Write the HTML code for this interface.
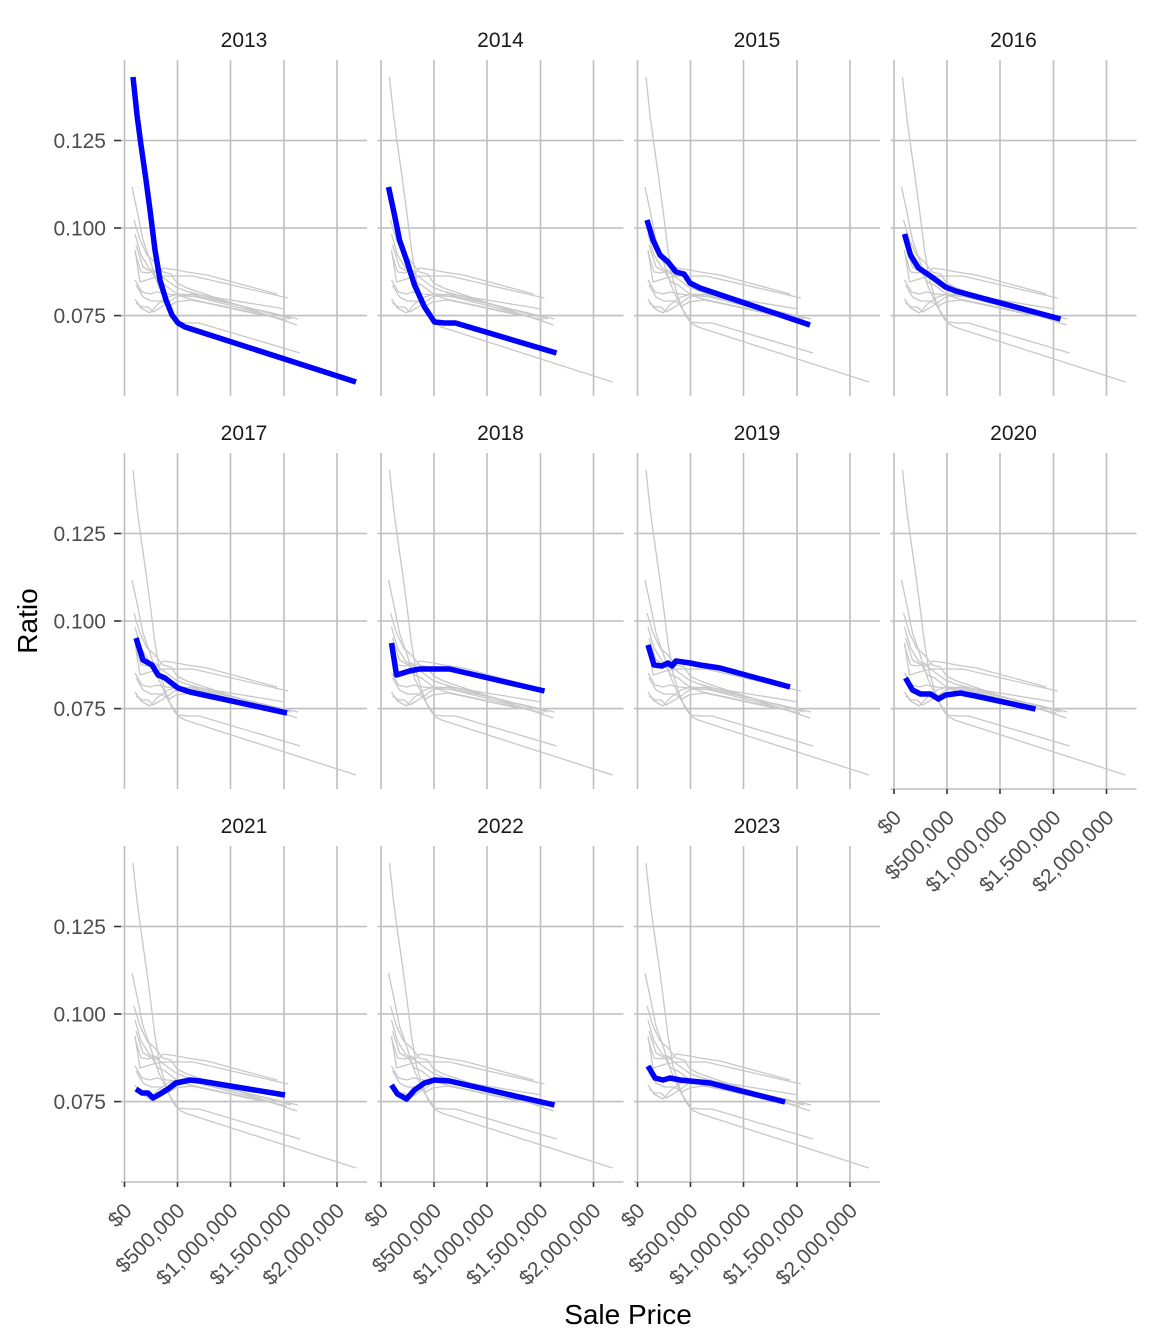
<!DOCTYPE html>
<html><head><meta charset="utf-8"><style>
html,body{margin:0;padding:0;background:#fff}
svg{display:block;font-family:"Liberation Sans",Arial,sans-serif}
</style></head><body>
<svg width="1152" height="1344" viewBox="0 0 1152 1344" xmlns="http://www.w3.org/2000/svg">
<defs>
<g id="grid" stroke="#bebebe" stroke-width="1.6" fill="none">
<line x1="121" y1="80.5" x2="367" y2="80.5"/>
<line x1="121" y1="168" x2="367" y2="168"/>
<line x1="121" y1="255.6" x2="367" y2="255.6"/>
<line x1="124.5" y1="0" x2="124.5" y2="336"/>
<line x1="177.5" y1="0" x2="177.5" y2="336"/>
<line x1="230.5" y1="0" x2="230.5" y2="336"/>
<line x1="284" y1="0" x2="284" y2="336"/>
<line x1="337" y1="0" x2="337" y2="336"/>
</g>
<g id="gray" stroke="#c8c8c8" stroke-width="1.3" fill="none" stroke-linejoin="round">
<polyline id="d13" points="133,77 137,115 141,145 146,180 150,210 155,250 160,280 166,300 172,315 178,323 185,327 356,382"/>
<polyline id="d14" points="132,187 138,215 143,240 150,260 158,285 168,307 178,322 188,323 199,323 300,353"/>
<polyline id="d15" points="134,220 140,240 147,255 155,262 163,272 171,274 177,283 187,288 297,325"/>
<polyline id="d16" points="135,234 141,255 149,268 161,276 176,287 186,291 291,319"/>
<polyline id="d17" points="136,245 143,267 152,272 158,282 165,285 178,295 190,299 287,320"/>
<polyline id="d18" points="135,250 140,282 153,278 163,276 193,276 288,298"/>
<polyline id="d19" points="135,252 141,272 149,273 155,270 159,273 163,268 177,270 187,272 207,275 277,294"/>
<polyline id="d20" points="136,285 143,297 151,301 161,301 169,306 176,302 191,300 206,303 266,316"/>
<polyline id="d21" points="136,303 142,307 148,307 153,312 160,308 168,303 176,297 190,294 200,295 285,309"/>
<polyline id="d22" points="135,299 141,308 150,313 158,304 168,297 178,294 193,295 298,319"/>
<polyline id="d23" points="135,280 142,292 150,294 157,292 167,294 197,297 272,316"/>
</g>
<g id="panel"><use href="#grid" transform="translate(0,60)"/><use href="#gray"/></g>
<g id="xax" font-size="21" fill="#4d4d4d">
<line x1="121" y1="0" x2="367" y2="0" stroke="#bebebe" stroke-width="1.6"/>
<g stroke="#333" stroke-width="1.6"><line x1="124.5" y1="0" x2="124.5" y2="5"/><line x1="177.5" y1="0" x2="177.5" y2="5"/><line x1="230.5" y1="0" x2="230.5" y2="5"/><line x1="284" y1="0" x2="284" y2="5"/><line x1="337" y1="0" x2="337" y2="5"/></g>
<text text-anchor="end" transform="translate(133,30) rotate(-45)">$0</text>
<text text-anchor="end" transform="translate(186,30) rotate(-45)">$500,000</text>
<text text-anchor="end" transform="translate(239,30) rotate(-45)">$1,000,000</text>
<text text-anchor="end" transform="translate(292.5,30) rotate(-45)">$1,500,000</text>
<text text-anchor="end" transform="translate(345.5,30) rotate(-45)">$2,000,000</text>
</g>
<g id="yax" font-size="21" fill="#4d4d4d" text-anchor="end">
<g stroke="#333" stroke-width="1.6"><line x1="114" y1="140.5" x2="121" y2="140.5"/><line x1="114" y1="228" x2="121" y2="228"/><line x1="114" y1="315.6" x2="121" y2="315.6"/></g>
<text x="106" y="148">0.125</text><text x="106" y="235.5">0.100</text><text x="106" y="323">0.075</text>
</g>
</defs>
<g font-size="21" fill="#1a1a1a" text-anchor="middle">
<text x="244" y="47">2013</text><text x="500.5" y="47">2014</text><text x="757" y="47">2015</text><text x="1013.5" y="47">2016</text>
<text x="244" y="440">2017</text><text x="500.5" y="440">2018</text><text x="757" y="440">2019</text><text x="1013.5" y="440">2020</text>
<text x="244" y="833">2021</text><text x="500.5" y="833">2022</text><text x="757" y="833">2023</text>
</g>
<g stroke="#0000ff" stroke-width="5.5" fill="none" stroke-linejoin="round">
<g transform="translate(0,0)"><use href="#panel"/><use href="#d13"/></g>
<g transform="translate(256.5,0)"><use href="#panel"/><use href="#d14"/></g>
<g transform="translate(513,0)"><use href="#panel"/><use href="#d15"/></g>
<g transform="translate(769.5,0)"><use href="#panel"/><use href="#d16"/></g>
<g transform="translate(0,393)"><use href="#panel"/><use href="#d17"/></g>
<g transform="translate(256.5,393)"><use href="#panel"/><use href="#d18"/></g>
<g transform="translate(513,393)"><use href="#panel"/><use href="#d19"/></g>
<g transform="translate(769.5,393)"><use href="#panel"/><use href="#d20"/></g>
<g transform="translate(0,786)"><use href="#panel"/><use href="#d21"/></g>
<g transform="translate(256.5,786)"><use href="#panel"/><use href="#d22"/></g>
<g transform="translate(513,786)"><use href="#panel"/><use href="#d23"/></g>
</g>
<use href="#yax"/>
<use href="#yax" transform="translate(0,393)"/>
<use href="#yax" transform="translate(0,786)"/>
<use href="#xax" transform="translate(0,1182)"/>
<use href="#xax" transform="translate(256.5,1182)"/>
<use href="#xax" transform="translate(513,1182)"/>
<use href="#xax" transform="translate(769.5,789)"/>
<text x="628" y="1324" font-size="28" text-anchor="middle" fill="#000">Sale Price</text>
<text transform="translate(37,621) rotate(-90)" font-size="28" text-anchor="middle" fill="#000">Ratio</text>
</svg>
</body></html>
